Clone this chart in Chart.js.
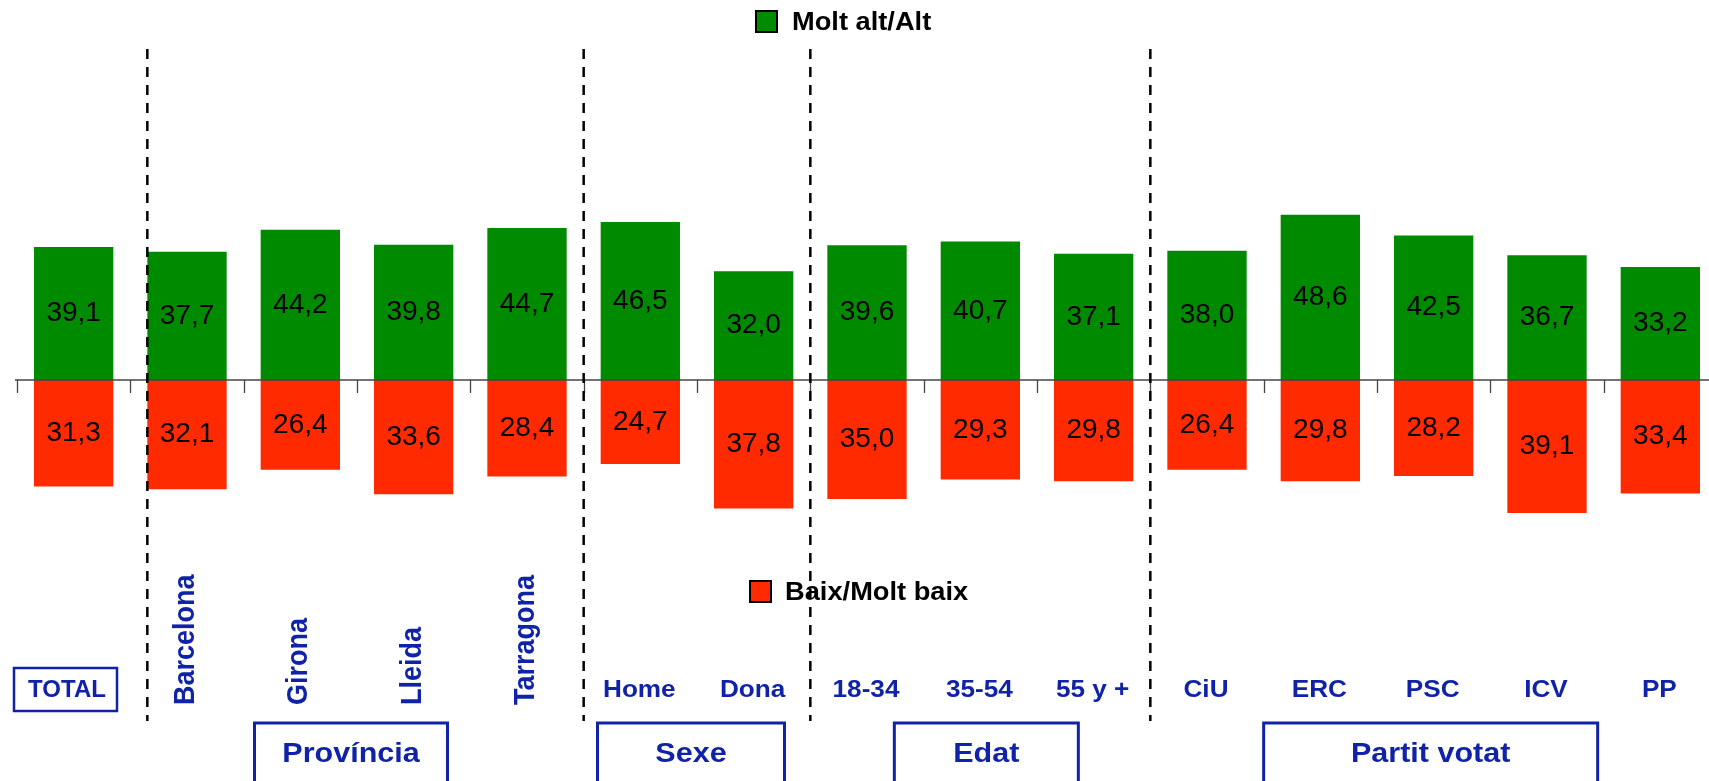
<!DOCTYPE html>
<html><head><meta charset="utf-8">
<script src="https://cdn.jsdelivr.net/npm/chart.js@4/dist/chart.umd.min.js"></script>
<style>html,body{margin:0;padding:0;background:#fff;overflow:hidden}#wrap{position:relative;width:1720px;height:781px}</style>
</head><body><div id="wrap"><canvas id="c" width="1720" height="781"></canvas></div>
<script>
// ---- data ----
const categories = ['TOTAL','Barcelona','Girona','Lleida','Tarragona','Home','Dona','18-34','35-54','55 y +','CiU','ERC','PSC','ICV','PP'];
const highValues = [39.1,37.7,44.2,39.8,44.7,46.5,32.0,39.6,40.7,37.1,38.0,48.6,42.5,36.7,33.2];
const lowValues  = [31.3,32.1,26.4,33.6,28.4,24.7,37.8,35.0,29.3,29.8,26.4,29.8,28.2,39.1,33.4];
const seriesNames = ['Molt alt/Alt','Baix/Molt baix'];
const groupNames = ['Província','Sexe','Edat','Partit votat'];
const groupFirst = [1,5,7,10];
const groupLast  = [4,6,9,14];

// ---- style ----
const GREEN = '#008a00', RED = '#ff2a00', BLUE = '#1023a8';
const FONT = '"Liberation Sans", Arial, sans-serif';
const SX = 1.09; // horizontal text stretch
const rotatedCats = [1,2,3,4];
const groupBoxWidths = [193,187,184,334];
const groupBoxOffsets = [-6,-6,6,-3];
const separatorsAt = [0.65,4.5,6.5,9.5];

function txt(ctx, s, x, y, font, color, sx, align, rot){
  ctx.save(); ctx.translate(x,y); ctx.scale(sx,1); if(rot) ctx.rotate(rot);
  ctx.font = font; ctx.fillStyle = color; ctx.textAlign = align || 'center'; ctx.textBaseline = 'middle';
  ctx.fillText(s,0,0); ctx.restore();
}
function fmt(v){ return v.toFixed(1).replace('.',','); }

const deco = {
  id:'deco',
  afterDatasetsDraw(chart){
    const ctx = chart.ctx, xs = chart.scales.x, ys = chart.scales.y;
    const p0 = xs.getPixelForValue(0), p1 = xs.getPixelForValue(1), step = p1 - p0;
    const px = v => p0 + v*step;
    const zero = ys.getPixelForValue(0);
    // axis line
    ctx.save();
    ctx.strokeStyle = '#444'; ctx.lineWidth = 1.5;
    ctx.beginPath(); ctx.moveTo(px(-0.5)-2, zero); ctx.lineTo(chart.width, zero); ctx.stroke();
    ctx.lineWidth = 1.3;
    for(let k=0;k<=categories.length;k++){
      const x = Math.round(px(k-0.5))+0.5;
      ctx.beginPath(); ctx.moveTo(x, zero); ctx.lineTo(x, zero+13); ctx.stroke();
    }
    // dashed separators
    ctx.strokeStyle = '#000'; ctx.lineWidth = 2.5; ctx.setLineDash([10,8]);
    separatorsAt.forEach(v=>{
      const x = px(v);
      ctx.beginPath(); ctx.moveTo(x, 49); ctx.lineTo(x, 721); ctx.stroke();
    });
    ctx.setLineDash([]);
    ctx.restore();
    // value labels
    chart.getDatasetMeta(0).data.forEach((b,i)=>{
      txt(ctx, fmt(highValues[i]), b.x, (b.y+zero)/2, '28px '+FONT, '#000', 1, 'center');
    });
    chart.getDatasetMeta(1).data.forEach((b,i)=>{
      txt(ctx, fmt(lowValues[i]), b.x, (b.y+zero)/2, '28px '+FONT, '#000', 1, 'center');
    });
    // legends
    ctx.save(); ctx.lineWidth = 2; ctx.strokeStyle = '#000';
    ctx.fillStyle = GREEN; ctx.fillRect(756,11,21,21); ctx.strokeRect(756,11,21,21);
    ctx.fillStyle = RED; ctx.fillRect(750,581,21,21); ctx.strokeRect(750,581,21,21);
    ctx.restore();
    txt(ctx, seriesNames[0], 792, 23, 'bold 25px '+FONT, '#000', SX, 'left');
    txt(ctx, seriesNames[1], 785, 593, 'bold 25px '+FONT, '#000', SX, 'left');
    // category labels
    categories.forEach((c,i)=>{
      const x = px(i);
      if(i===0){
        ctx.save(); ctx.strokeStyle = BLUE; ctx.lineWidth = 2.5;
        ctx.strokeRect(14,668,103,43); ctx.restore();
        txt(ctx, c, 67, 690, 'bold 24px '+FONT, BLUE, 1, 'center');
      } else if(rotatedCats.includes(i)){
        txt(ctx, c, x-1, 705, 'bold 27px '+FONT, BLUE, SX, 'left', -Math.PI/2);
      } else {
        txt(ctx, c, x-1, 690, 'bold 24px '+FONT, BLUE, SX, 'center');
      }
    });
    // group boxes
    groupNames.forEach((g,k)=>{
      const cx = (px(groupFirst[k])+px(groupLast[k]))/2 + groupBoxOffsets[k];
      const w = groupBoxWidths[k];
      ctx.save(); ctx.strokeStyle = BLUE; ctx.lineWidth = 3;
      ctx.strokeRect(cx-w/2, 723, w, 80); ctx.restore();
      txt(ctx, g, cx, 754, 'bold 28px '+FONT, BLUE, SX, 'center');
    });
  }
};

new Chart(document.getElementById('c'), {
  type:'bar',
  data:{
    labels: categories,
    datasets:[
      {label: seriesNames[0], data: highValues, backgroundColor: GREEN, borderWidth:0},
      {label: seriesNames[1], data: lowValues.map(v=>-v), backgroundColor: RED, borderWidth:0}
    ]
  },
  options:{
    responsive:false, animation:false, devicePixelRatio:1,
    layout:{padding:{left:17,right:3,top:40,bottom:61}},
    datasets:{bar:{categoryPercentage:1, barPercentage:0.70}},
    scales:{
      x:{display:false, stacked:true},
      y:{display:false, stacked:true, min:-100, max:100}
    },
    plugins:{legend:{display:false}, tooltip:{enabled:false}}
  },
  plugins:[deco]
});
</script></body></html>
